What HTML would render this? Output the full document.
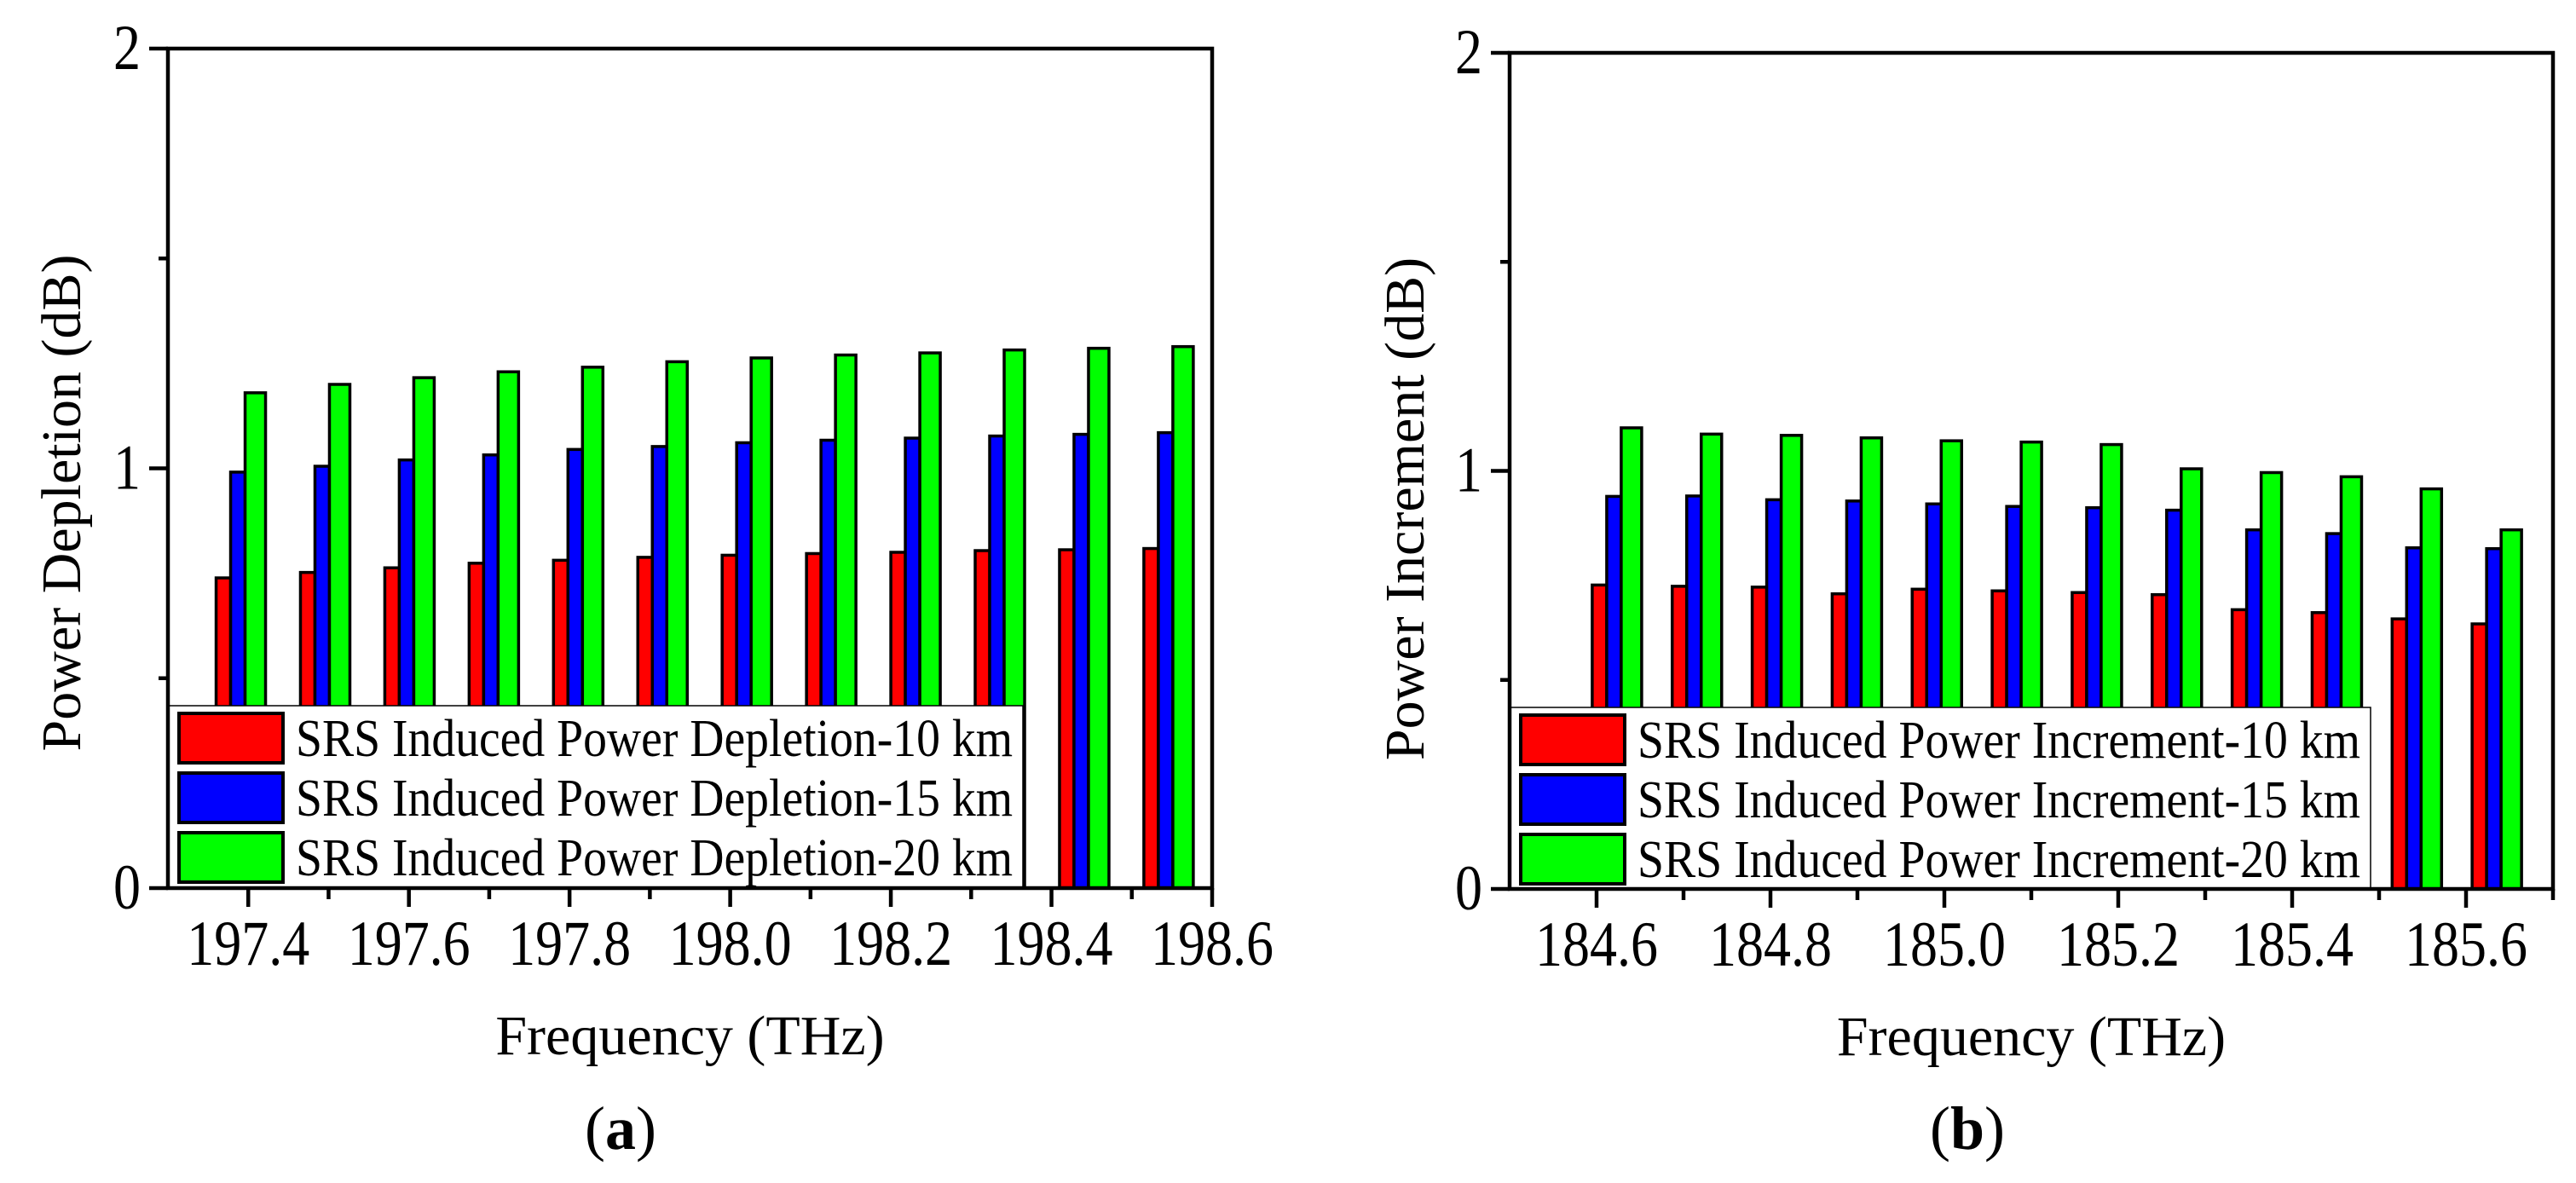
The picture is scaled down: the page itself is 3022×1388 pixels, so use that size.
<!DOCTYPE html>
<html><head><meta charset="utf-8"><style>
html,body{margin:0;padding:0;background:#fff;}
svg{display:block;font-family:"Liberation Serif",serif;}
</style></head><body>
<svg id="fig" width="3022" height="1388" viewBox="0 0 3022 1388" xmlns="http://www.w3.org/2000/svg"></svg>
<script>
// Chart (a) data
const freqsA = [197.36,197.465,197.57,197.675,197.78,197.885,197.99,198.095,198.2,198.305,198.41,198.515];
const depl10 = [0.739,0.752,0.763,0.774,0.781,0.788,0.793,0.797,0.800,0.804,0.806,0.809];
const depl15 = [0.991,1.005,1.020,1.032,1.045,1.052,1.061,1.067,1.072,1.077,1.081,1.085];
const depl20 = [1.180,1.200,1.216,1.230,1.241,1.254,1.263,1.270,1.275,1.282,1.286,1.290];
const xTicksA = ["197.4","197.6","197.8","198.0","198.2","198.4","198.6"];
// Chart (b) data
const freqsB = [184.595,184.687,184.779,184.871,184.963,185.055,185.147,185.239,185.331,185.423,185.515,185.607];
const incr10 = [0.727,0.724,0.722,0.706,0.717,0.713,0.709,0.704,0.668,0.661,0.646,0.634];
const incr15 = [0.939,0.940,0.931,0.928,0.921,0.915,0.912,0.906,0.859,0.850,0.816,0.814];
const incr20 = [1.103,1.088,1.085,1.079,1.072,1.069,1.063,1.005,0.996,0.986,0.957,0.859];
const xTicksB = ["184.6","184.8","185.0","185.2","185.4","185.6"];
const yTicks = ["0","1","2"];

const NS = "http://www.w3.org/2000/svg";
const svg = document.getElementById('fig');
function mk(tag, attrs, parent, text){
  const e = document.createElementNS(NS, tag);
  for (const k in attrs) e.setAttribute(k, attrs[k]);
  if (text !== undefined) e.textContent = text;
  (parent||svg).appendChild(e);
  return e;
}
const SY = 1.18;
function stretched(x, y, size, anchor, parent, str){
  return mk('text', {x:0, y:0, 'font-size':size, 'text-anchor':anchor, transform:'translate(' + x + ',' + y + ') scale(1,' + SY + ')'}, parent, str);
}

function drawChart(c){
  const g = mk('g', {});
  
  
  const x = v => c.L + (v - c.xmin) / (c.xmax - c.xmin) * (c.R - c.L);
  const y = v => c.B - v / 2 * (c.B - c.T);
  const series = [c.s10, c.s15, c.s20];
  const cols = ['#ff0000','#0000ff','#00ff00'];
  const offs = [0, 17, 34];
  const wids = [17, 17, 24];
  for (let s = 0; s < 3; s++){
    for (let i = 0; i < c.freqs.length; i++){
      const x0 = x(c.freqs[i]) + offs[s];
      const r = mk('rect', {x:x0, y:y(series[s][i]), width:wids[s], height:y(0)-y(series[s][i]), fill:cols[s], stroke:'#000', 'stroke-width':3.5}, g);
      
      
    }
  }
  const lg = mk('g', {}, g);
  
  
  mk('rect', {x:c.L, y:c.legT, width:c.legR - c.L, height:c.B - c.legT, fill:'#fff', stroke:'#000', 'stroke-width':1.5}, lg);
  for (let s = 0; s < 3; s++){
    const ry = c.legT + 9 + s*70;
    const sw = mk('rect', {x:c.L+13, y:ry, width:122, height:58, fill:cols[s], stroke:'#000', 'stroke-width':4}, lg);
    
    
    const t = mk('text', {x:c.L+150, y:ry+50, 'font-size':62, textLength:c.legR - c.L - 162, lengthAdjust:'spacingAndGlyphs'}, lg, c.labels[s]);
    
    
  }
  const fr = mk('rect', {x:c.L, y:c.T, width:c.R-c.L, height:c.B-c.T, fill:'none', stroke:'#000', 'stroke-width':4.5}, g);
  
  
  for (let i = 0; i <= 4; i++){
    const v = i*0.5, yy = y(v), major = i%2===0;
    mk('line', {x1:c.L - (major?22:11), x2:c.L, y1:yy, y2:yy, stroke:'#000', 'stroke-width':4.5}, g);
  }
  for (let i = 0; i < yTicks.length; i++){
    const t = stretched(c.L-32, y(+yTicks[i])+24, 64, 'end', g, yTicks[i]);
    
    
  }
  const firstMajor = +c.xTicks[0];
  for (let v = c.xmin + 0.1; v < c.xmax + 0.05; v += 0.1){
    const k = Math.round((v - firstMajor)*10);
    const major = k % 2 === 0;
    mk('line', {x1:x(v), x2:x(v), y1:c.B, y2:c.B + (major?22:13), stroke:'#000', 'stroke-width':4.5}, g);
  }
  for (let i = 0; i < c.xTicks.length; i++){
    const t = stretched(x(+c.xTicks[i]), c.B+90, 64, 'middle', g, c.xTicks[i]);
    
    
  }
  const xt = mk('text', {x:(c.L+c.R)/2, y:c.B+195, 'font-size':66, 'text-anchor':'middle'}, g, 'Frequency (THz)');
  
  
  const yt = mk('text', {x:0, y:0, 'font-size':66, 'text-anchor':'middle', transform:'translate(' + c.ytx + ',' + c.yty + ') rotate(-90)'}, g, c.ytitle);
  
  
  const pl = mk('text', {x:c.panelX, y:1348, 'font-size':72, 'text-anchor':'middle'}, g);
  
  
  mk('tspan', {}, pl, '(');
  mk('tspan', {'font-weight':'bold'}, pl, c.panel);
  mk('tspan', {}, pl, ')');
}

drawChart({id:'chart-a', L:197, R:1422, T:57, B:1042, xmin:197.3, xmax:198.6,
  freqs:freqsA, s10:depl10, s15:depl15, s20:depl20, xTicks:xTicksA,
  legT:828, legR:1200, labels:['SRS Induced Power Depletion-10 km','SRS Induced Power Depletion-15 km','SRS Induced Power Depletion-20 km'],
  ytitle:'Power Depletion (dB)', ytx:94, yty:590, panel:'a', panelX:728});
drawChart({id:'chart-b', L:1771, R:2995, T:62, B:1043, xmin:184.5, xmax:185.7,
  freqs:freqsB, s10:incr10, s15:incr15, s20:incr20, xTicks:xTicksB,
  legT:830, legR:2781, labels:['SRS Induced Power Increment-10 km','SRS Induced Power Increment-15 km','SRS Induced Power Increment-20 km'],
  ytitle:'Power Increment (dB)', ytx:1670, yty:597, panel:'b', panelX:2308});
</script>
</body></html>
